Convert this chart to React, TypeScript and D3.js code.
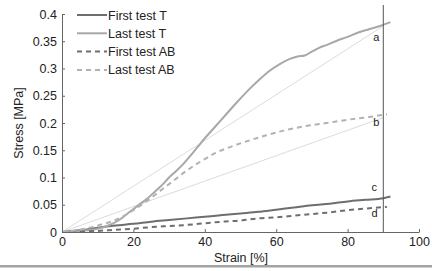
import React, { useEffect, useRef } from "react";
import * as d3 from "d3";

// strain [%], stress [MPa]
const firstT = [[0,0],[5,0.003],[10,0.008],[15,0.012],[20,0.015],[25,0.019],[30,0.022],[35,0.025],[40,0.028],[45,0.031],[50,0.034],[55,0.037],[60,0.041],[65,0.045],[70,0.049],[75,0.052],[80,0.056],[85,0.059],[90,0.062],[92,0.065]];
const lastT = [[0,0],[5,0.002],[10,0.006],[13,0.012],[16,0.022],[18,0.032],[20,0.042],[22,0.052],[24,0.062],[26,0.074],[28,0.086],[30,0.1],[32,0.112],[34,0.125],[36,0.14],[38,0.156],[40,0.172],[43,0.194],[46,0.216],[49,0.238],[52,0.259],[55,0.278],[58,0.295],[61,0.308],[64,0.318],[66,0.322],[68,0.324],[70,0.331],[72,0.338],[74,0.343],[77,0.351],[80,0.358],[83,0.366],[86,0.372],[89,0.378],[92,0.385]];
const firstAB = [[0,0],[10,0.002],[15,0.004],[20,0.006],[25,0.009],[30,0.011],[35,0.013],[40,0.016],[45,0.019],[50,0.021],[55,0.025],[60,0.027],[65,0.03],[70,0.033],[75,0.036],[80,0.04],[85,0.043],[91,0.046]];
const lastAB = [[0,0],[5,0.004],[10,0.012],[15,0.022],[20,0.04],[24,0.058],[28,0.078],[32,0.098],[35,0.113],[39,0.13],[43,0.145],[48,0.158],[52,0.167],[57,0.177],[62,0.186],[68,0.194],[74,0.2],[80,0.206],[86,0.211],[91,0.216]];
// secant lines from origin
const secants = [[[0, 0], [90, 0.378]], [[0, 0], [90, 0.21]]];
const endLabels = [["a", 90, 0.35], ["b", 90, 0.195], ["c", 89.5, 0.075], ["d", 89.5, 0.028]];
const xTicks = [0, 20, 40, 60, 80, 100];
const yTicks = [0, 0.05, 0.1, 0.15, 0.2, 0.25, 0.3, 0.35, 0.4];
const legendNames = ["First test T", "Last test T", "First test AB", "Last test AB"];

export default function App() {
  const svgRef = useRef(null);

  useEffect(() => {
    const svg = d3.select(svgRef.current);
    svg.selectAll("*").remove();
    const font = "Liberation Sans, Arial, sans-serif";
    const ink = "#222";

    const x = d3.scaleLinear().domain([0, 100]).range([62, 419]);
    const y = d3.scaleLinear().domain([0, 0.4]).range([232, 14]);
    const line = d3.line().x((d) => x(d[0])).y((d) => y(d[1]));
    const smooth = d3.line().x((d) => x(d[0])).y((d) => y(d[1])).curve(d3.curveMonotoneX);

    // secants (thin, very light)
    svg.append("g").selectAll("path").data(secants).join("path")
      .attr("d", (d) => line(d)).attr("fill", "none")
      .attr("stroke", "#dcdcdc").attr("stroke-width", 1);

    const series = [
      { data: firstT, color: "#6e6e6e", dash: null },
      { data: lastT, color: "#a8a8a8", dash: null },
      { data: firstAB, color: "#6e6e6e", dash: "5,4" },
      { data: lastAB, color: "#b2b2b2", dash: "5,4" },
    ];

    svg.append("g").selectAll("path").data(series).join("path")
      .attr("d", (s) => smooth(s.data)).attr("fill", "none")
      .attr("stroke", (s) => s.color).attr("stroke-width", 2)
      .attr("stroke-dasharray", (s) => s.dash);

    // vertical marker at 90%
    svg.append("line")
      .attr("x1", x(90)).attr("x2", x(90)).attr("y1", 5).attr("y2", y(0))
      .attr("stroke", "#555").attr("stroke-width", 1);

    // axes
    const xAxis = d3.axisBottom(x).tickValues(xTicks).tickSizeInner(-3).tickSizeOuter(0).tickPadding(5);
    const gx = svg.append("g").attr("transform", `translate(0,${y(0)})`).call(xAxis);
    gx.select(".domain").attr("stroke", "#666");
    gx.selectAll("line").attr("stroke", "#666");
    gx.selectAll("text").attr("font-family", font).attr("font-size", 12.5).attr("fill", ink);

    const yAxis = d3.axisLeft(y).tickValues(yTicks).tickFormat((d) => String(d)).tickSizeInner(-3).tickSizeOuter(0).tickPadding(5);
    const gy = svg.append("g").attr("transform", `translate(${x(0)},0)`).call(yAxis);
    gy.select(".domain").attr("stroke", "#666");
    gy.selectAll("line").attr("stroke", "#666");
    gy.selectAll("text").attr("font-family", font).attr("font-size", 12.5).attr("fill", ink);

    svg.append("text").attr("x", 241).attr("y", 262).attr("text-anchor", "middle")
      .attr("font-family", font).attr("font-size", 12.5).attr("fill", ink).text("Strain [%]");
    svg.append("text").attr("transform", "translate(23,123) rotate(-90)").attr("text-anchor", "middle")
      .attr("font-family", font).attr("font-size", 12.5).attr("fill", ink).text("Stress [MPa]");

    // end labels
    svg.append("g").selectAll("text").data(endLabels).join("text")
      .attr("x", (d) => x(d[1]) - 10).attr("y", (d) => y(d[2]))
      .attr("font-family", font).attr("font-size", 11).attr("fill", ink)
      .text((d) => d[0]);

    // legend
    const lg = svg.append("g").selectAll("g").data(series).join("g")
      .attr("transform", (d, i) => `translate(77,${15 + i * 18.3})`);
    lg.append("line").attr("x1", 0).attr("x2", 30).attr("y1", 0).attr("y2", 0)
      .attr("stroke", (d) => d.color).attr("stroke-width", 2)
      .attr("stroke-dasharray", (d) => d.dash);
    lg.append("text").attr("x", 31).attr("y", 4.5)
      .attr("font-family", font).attr("font-size", 12.5).attr("fill", ink)
      .text((d, i) => legendNames[i]);

    // page separator at bottom
    svg.append("rect").attr("x", 0).attr("y", 265).attr("width", 432).attr("height", 2.5).attr("fill", "#a3a3a3");
  }, []);

  return (
    <svg ref={svgRef} width={432} height={271}
      style={{ position: "absolute", left: 0, top: 0, background: "#fff" }} />
  );
}
